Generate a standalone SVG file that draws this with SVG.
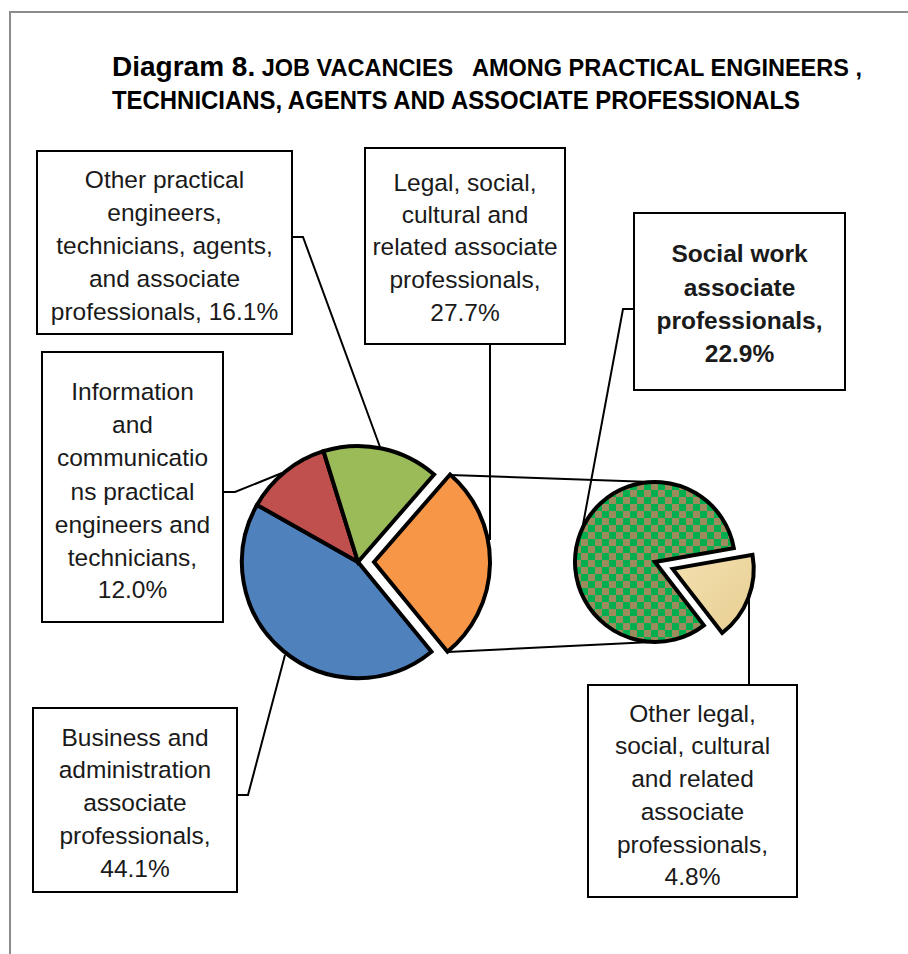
<svg xmlns="http://www.w3.org/2000/svg" width="908" height="954" viewBox="0 0 908 954">
<defs>
<style>
.lbl{font-family:"Liberation Sans",Arial,sans-serif;font-size:24.5px;fill:#1a1a1a;text-anchor:middle}
.b{font-weight:bold}
.box{fill:#fff;stroke:#000;stroke-width:2}
.lead{fill:none;stroke:#000;stroke-width:2}
.sl{stroke:#000;stroke-width:4;stroke-linejoin:miter}
.title{font-family:"Liberation Sans",Arial,sans-serif;font-weight:bold;fill:#000;white-space:pre}
</style>
<pattern id="chk" patternUnits="userSpaceOnUse" width="14" height="14">
<rect width="14" height="14" fill="#00AE50"/>
<rect x="0" y="0" width="7" height="7" fill="#9C8B5C"/>
<rect x="7" y="7" width="7" height="7" fill="#9C8B5C"/>
</pattern>
<linearGradient id="tan" x1="0" y1="0" x2="1" y2="1">
<stop offset="0" stop-color="#F3E0B0"/>
<stop offset="1" stop-color="#E8CF92"/>
</linearGradient>
</defs>
<rect width="908" height="954" fill="#fff"/>
<path d="M10,954 V12 H908" fill="none" stroke="#8c8c8c" stroke-width="2"/>
<g id="title">
<text class="title" x="112" y="76" textLength="750" lengthAdjust="spacingAndGlyphs"><tspan font-size="28">Diagram 8.</tspan><tspan font-size="23.5"> JOB VACANCIES   AMONG PRACTICAL ENGINEERS ,</tspan></text>
<text class="title" x="112" y="109" font-size="25" textLength="688" lengthAdjust="spacingAndGlyphs">TECHNICIANS, AGENTS AND ASSOCIATE PROFESSIONALS</text>
</g>
<g id="connectors">
<path class="lead" d="M292,237 H303 L380,447"/>
<path class="lead" d="M490,344 V540"/>
<path class="lead" d="M634,309 H623 L582,530"/>
<path class="lead" d="M223,492 H235 L282,473"/>
<path class="lead" d="M237,795 H248 L285,655"/>
<path class="lead" d="M749,598 V685"/>
<path class="lead" d="M450,475 L652,482"/>
<path class="lead" d="M447.5,652 L652,642"/>
</g>
<g id="main-pie">
<path id="slice-blue" class="sl" fill="#4F81BD" d="M358,562 L431.5,651.8 A116,116 0 0 1 257.0,504.9 Z"/>
<path id="slice-red" class="sl" fill="#C0504D" d="M358,562 L257.0,504.9 A116,116 0 0 1 323.5,451.2 Z"/>
<path id="slice-green" class="sl" fill="#9BBB59" d="M358,562 L323.5,451.2 A116,116 0 0 1 434.1,474.5 Z"/>
<path id="slice-orange" class="sl" fill="#F79646" d="M374,562 L450.1,474.5 A116,116 0 0 1 447.5,651.8 Z"/>
</g>
<g id="second-pie">
<path id="slice-social" class="sl" fill="url(#chk)" d="M655,562 L703.9,625.3 A80,80 0 1 1 733.8,548.1 Z"/>
<path id="slice-otherlegal" class="sl" fill="url(#tan)" d="M672.7,568.9 L752.5,554.8 A81,81 0 0 1 722.2,633.0 Z"/>
</g>
<g id="label-other-practical">
<rect class="box" x="37" y="151" width="255" height="183"/>
<text class="lbl"><tspan x="164.5" y="188">Other practical</tspan><tspan x="164.5" y="221">engineers,</tspan><tspan x="164.5" y="254">technicians, agents,</tspan><tspan x="164.5" y="287">and associate</tspan><tspan x="164.5" y="320">professionals, 16.1%</tspan></text>
</g>
<g id="label-legal">
<rect class="box" x="365" y="148" width="200" height="196"/>
<text class="lbl"><tspan x="465" y="191">Legal, social,</tspan><tspan x="465" y="223">cultural and</tspan><tspan x="465" y="255">related associate</tspan><tspan x="465" y="288">professionals,</tspan><tspan x="465" y="321">27.7%</tspan></text>
</g>
<g id="label-social-work">
<rect class="box" x="634" y="213" width="211" height="177"/>
<text class="lbl b"><tspan x="739.5" y="262">Social work</tspan><tspan x="739.5" y="296">associate</tspan><tspan x="739.5" y="329">professionals,</tspan><tspan x="739.5" y="362">22.9%</tspan></text>
</g>
<g id="label-ict">
<rect class="box" x="42" y="352" width="181" height="270"/>
<text class="lbl"><tspan x="132.5" y="400">Information</tspan><tspan x="132.5" y="433">and</tspan><tspan x="132.5" y="466">communicatio</tspan><tspan x="132.5" y="500">ns practical</tspan><tspan x="132.5" y="533">engineers and</tspan><tspan x="132.5" y="566">technicians,</tspan><tspan x="132.5" y="598">12.0%</tspan></text>
</g>
<g id="label-business">
<rect class="box" x="33" y="708" width="204" height="184"/>
<text class="lbl"><tspan x="135" y="746">Business and</tspan><tspan x="135" y="778">administration</tspan><tspan x="135" y="811">associate</tspan><tspan x="135" y="844">professionals,</tspan><tspan x="135" y="877">44.1%</tspan></text>
</g>
<g id="label-other-legal">
<rect class="box" x="588" y="685" width="209" height="212"/>
<text class="lbl"><tspan x="692.5" y="722">Other legal,</tspan><tspan x="692.5" y="754">social, cultural</tspan><tspan x="692.5" y="787">and related</tspan><tspan x="692.5" y="820">associate</tspan><tspan x="692.5" y="853">professionals,</tspan><tspan x="692.5" y="885">4.8%</tspan></text>
</g>
</svg>
